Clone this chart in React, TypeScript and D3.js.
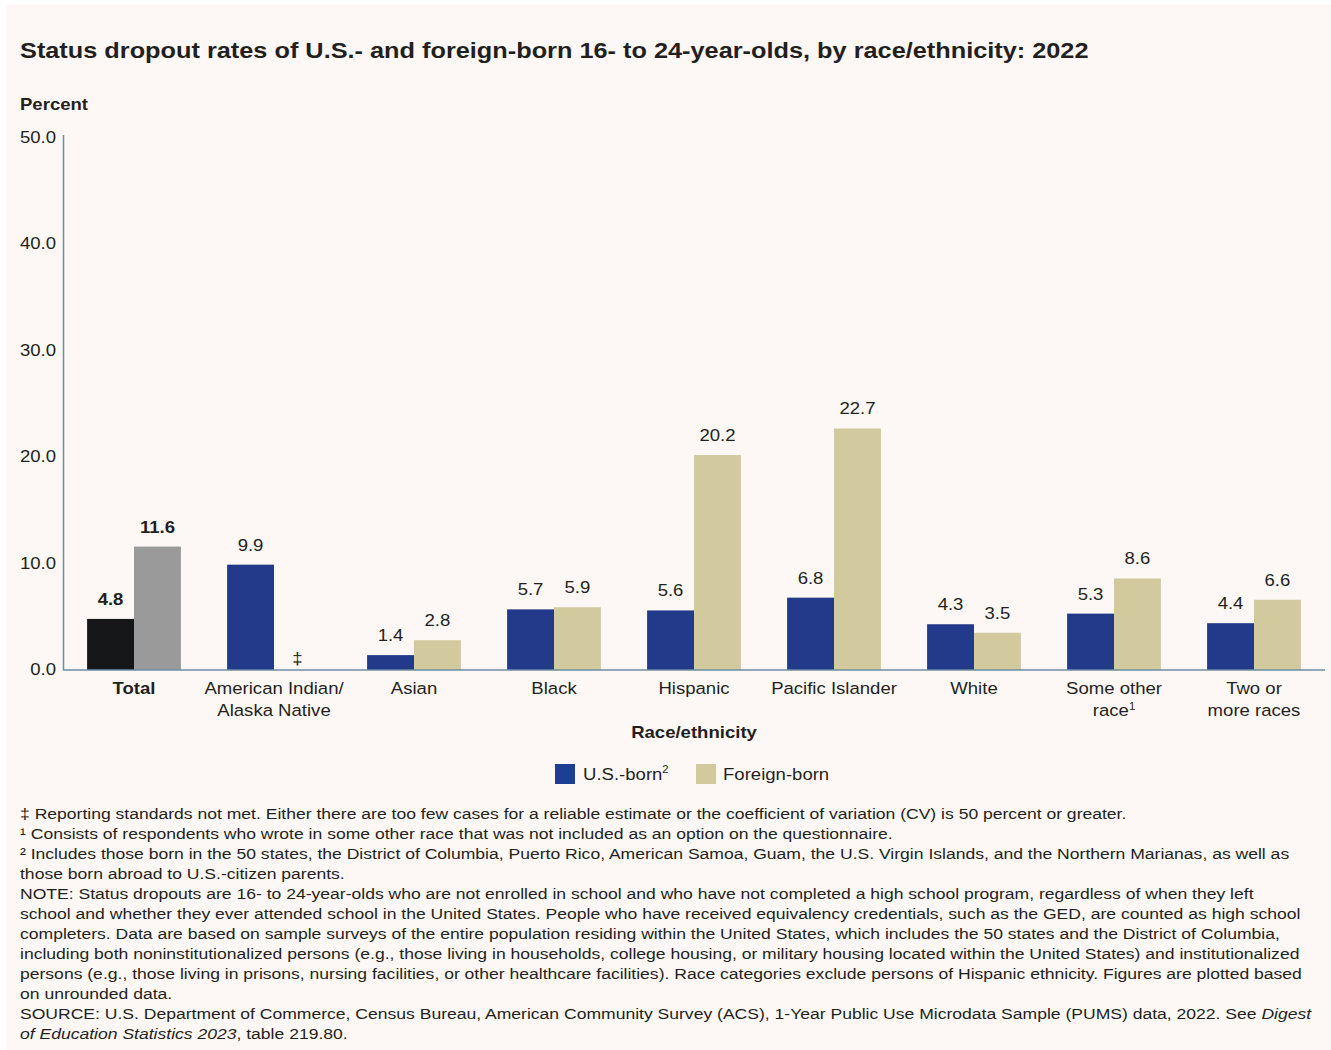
import React from 'react';
import * as d3 from 'd3';

const categories = [
  ['Total'],
  ['American Indian/', 'Alaska Native'],
  ['Asian'],
  ['Black'],
  ['Hispanic'],
  ['Pacific Islander'],
  ['White'],
  ['Some other', 'race¹'],
  ['Two or', 'more races'],
];
const usBorn = [4.8, 9.9, 1.4, 5.7, 5.6, 6.8, 4.3, 5.3, 4.4];
const foreignBorn: (number | null)[] = [11.6, null, 2.8, 5.9, 20.2, 22.7, 3.5, 8.6, 6.6];
const yTicks = [0, 10, 20, 30, 40, 50];

const footnotes = [
  '‡ Reporting standards not met. Either there are too few cases for a reliable estimate or the coefficient of variation (CV) is 50 percent or greater.',
  '¹ Consists of respondents who wrote in some other race that was not included as an option on the questionnaire.',
  '² Includes those born in the 50 states, the District of Columbia, Puerto Rico, American Samoa, Guam, the U.S. Virgin Islands, and the Northern Marianas, as well as',
  'those born abroad to U.S.-citizen parents.',
  'NOTE: Status dropouts are 16- to 24-year-olds who are not enrolled in school and who have not completed a high school program, regardless of when they left',
  'school and whether they ever attended school in the United States. People who have received equivalency credentials, such as the GED, are counted as high school',
  'completers. Data are based on sample surveys of the entire population residing within the United States, which includes the 50 states and the District of Columbia,',
  'including both noninstitutionalized persons (e.g., those living in households, college housing, or military housing located within the United States) and institutionalized',
  'persons (e.g., those living in prisons, nursing facilities, or other healthcare facilities). Race categories exclude persons of Hispanic ethnicity. Figures are plotted based',
  'on unrounded data.',
];

const US_COLOR = '#233a8b';
const FB_COLOR = '#d3c99e';
const TEXT = '#231f20';
const AXIS = '#6e8ea3';
const FONT = 'Liberation Sans, Arial, sans-serif';
// the source image text is a bit wider than the font, so stretch horizontally
const SX = 1.125;
const SX_NOTE = 1.14;

function SText({
  x,
  y,
  sx = SX,
  anchor = 'start',
  size = 16.5,
  bold = false,
  children,
}: {
  x: number;
  y: number;
  sx?: number;
  anchor?: string;
  size?: number;
  bold?: boolean;
  children: React.ReactNode;
}) {
  return (
    <text
      transform={`translate(${x},${y}) scale(${sx},1)`}
      textAnchor={anchor}
      fontSize={size}
      fontWeight={bold ? 'bold' : 'normal'}
      fill={TEXT}
    >
      {children}
    </text>
  );
}

export default function App() {
  const width = 1331;
  const height = 1050;

  const x = d3
    .scaleBand<number>()
    .domain(d3.range(categories.length))
    .range([64, 1324])
    .paddingInner(0.33)
    .paddingOuter(0.165);
  const bw = x.bandwidth() / 2;

  const y = d3.scaleLinear().domain([0, 50]).range([670, 138]);

  return (
    <div style={{ position: 'absolute', left: 0, top: 0 }}>
      <svg width={width} height={height} style={{ display: 'block', fontFamily: FONT }}>
        <rect x={0} y={0} width={width} height={height} fill="#ffffff" />
        <rect x={6} y={5} width={width - 6} height={height - 5} fill="#fdf8f5" />

        <SText x={20} y={58} size={22.5} bold>
          Status dropout rates of U.S.- and foreign-born 16- to 24-year-olds, by race/ethnicity: 2022
        </SText>

        <SText x={20} y={110} bold>
          Percent
        </SText>

        {/* y ticks */}
        {yTicks.map((t) => (
          <SText key={t} x={56} y={y(t) + 5} anchor="end">
            {t.toFixed(1)}
          </SText>
        ))}

        {/* bars */}
        {categories.map((c, i) => {
          const x0 = x(i)!;
          const isTotal = i === 0;
          const fb = foreignBorn[i];
          return (
            <g key={i}>
              <rect
                x={x0}
                y={y(usBorn[i])}
                width={bw}
                height={y(0) - y(usBorn[i])}
                fill={isTotal ? '#161719' : US_COLOR}
              />
              <SText x={x0 + bw / 2} y={y(usBorn[i]) - 14} anchor="middle" bold={isTotal}>
                {usBorn[i].toFixed(1)}
              </SText>
              {fb != null ? (
                <>
                  <rect
                    x={x0 + bw}
                    y={y(fb)}
                    width={bw}
                    height={y(0) - y(fb)}
                    fill={isTotal ? '#9a9a9a' : FB_COLOR}
                  />
                  <SText x={x0 + bw * 1.5} y={y(fb) - 14} anchor="middle" bold={isTotal}>
                    {fb.toFixed(1)}
                  </SText>
                </>
              ) : (
                <SText x={x0 + bw * 1.5} y={y(0) - 6} anchor="middle">
                  ‡
                </SText>
              )}
              {c.map((line, j) => (
                <SText key={j} x={x0 + bw} y={694 + j * 22} anchor="middle" bold={isTotal}>
                  {line.endsWith('¹') ? (
                    <>
                      {line.slice(0, -1)}
                      <tspan fontSize={10} dy={-6}>
                        1
                      </tspan>
                    </>
                  ) : (
                    line
                  )}
                </SText>
              ))}
            </g>
          );
        })}

        {/* axes */}
        <line x1={63.5} x2={63.5} y1={135} y2={670} stroke={AXIS} strokeWidth={1.5} />
        <line x1={63} x2={1325} y1={670} y2={670} stroke={AXIS} strokeWidth={1.5} />

        <SText x={694} y={738} anchor="middle" bold>
          Race/ethnicity
        </SText>

        {/* legend */}
        <rect x={555} y={764} width={20} height={20} fill="#1c3f94" />
        <SText x={583} y={780}>
          U.S.-born
          <tspan fontSize={10} dy={-7}>
            2
          </tspan>
        </SText>
        <rect x={696} y={764} width={20} height={20} fill={FB_COLOR} />
        <SText x={723} y={780}>Foreign-born</SText>

        {/* footnotes */}
        {footnotes.map((line, i) => (
          <SText key={i} x={20} y={819 + i * 20} size={15.4} sx={SX_NOTE}>
            {line}
          </SText>
        ))}
        <SText x={20} y={819 + 10 * 20} size={15.4} sx={SX_NOTE}>
          SOURCE: U.S. Department of Commerce, Census Bureau, American Community Survey (ACS), 1-Year Public Use Microdata Sample (PUMS) data, 2022. See{' '}
          <tspan fontStyle="italic">Digest</tspan>
        </SText>
        <SText x={20} y={819 + 11 * 20} size={15.4} sx={SX_NOTE}>
          <tspan fontStyle="italic">of Education Statistics 2023</tspan>, table 219.80.
        </SText>
      </svg>
    </div>
  );
}
